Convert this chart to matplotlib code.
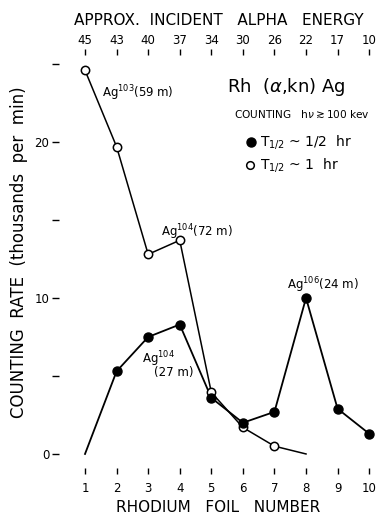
import numpy as np
import matplotlib
matplotlib.use('Agg')
import matplotlib.pyplot as plt

plt.rcParams['font.family'] = ['DejaVu Sans']
plt.rcParams['mathtext.fontset'] = 'dejavusans'

# foil numbers and the alpha energies on top
foil = [1, 2, 3, 4, 5, 6, 7, 8, 9, 10]
energy = [45, 43, 40, 37, 34, 30, 26, 22, 17, 10]

# T1/2 ~ 1/2 hr (filled), starts from zero at foil 1
half_hr_x = [1, 2, 3, 4, 5, 6, 7, 8, 9, 10]
half_hr_y = [0.0, 5.3, 7.5, 8.3, 3.6, 2.0, 2.7, 10.0, 2.9, 1.3]

# T1/2 ~ 1 hr (open), runs down to zero at foil 8
one_hr_x = [1, 2, 3, 4, 5, 6, 7, 8]
one_hr_y = [24.6, 19.7, 12.8, 13.7, 3.95, 1.7, 0.5, 0.0]

fig = plt.figure(figsize=(3.8, 5.15), dpi=100)
ax = fig.add_axes([59/380, 47/515, 319/380, 413/515])
ax.set_xlim(0.176, 10.28)
ax.set_ylim(-0.9, 25.58)
for s in ax.spines.values():
    s.set_visible(False)

ax.plot(one_hr_x, one_hr_y, '-', color='k', lw=1.1, zorder=2)
ax.plot(one_hr_x[:-1], one_hr_y[:-1], 'o', ms=6, mfc='white', mec='k', mew=1.1, zorder=3)
ax.plot(half_hr_x, half_hr_y, '-', color='k', lw=1.3, zorder=2)
ax.plot(half_hr_x[1:], half_hr_y[1:], 'o', ms=6.5, color='k', zorder=4)

ax.set_xticks(foil)
ax.set_xticklabels([str(f) for f in foil], fontsize=8.5)
ax.tick_params(axis='x', direction='out', length=4, width=1, pad=6)
ax.set_yticks([0, 5, 10, 15, 20, 25])
ax.set_yticklabels(['0', '', '10', '', '20', ''], fontsize=8.5)
ax.tick_params(axis='y', direction='out', length=5, width=1, pad=2)
ax.set_xlabel('RHODIUM   FOIL   NUMBER', fontsize=11, labelpad=4)

top = ax.twiny()
top.set_xlim(ax.get_xlim())
for s in top.spines.values():
    s.set_visible(False)
top.set_xticks(foil)
top.set_xticklabels([str(e) for e in energy], fontsize=8.5)
top.tick_params(axis='x', direction='out', length=4, width=1, pad=2)
top.set_xlabel('APPROX.  INCIDENT   ALPHA   ENERGY', fontsize=11, labelpad=6)

fig.text(0.05, 0.51, 'COUNTING  RATE  (thousands  per  min)', rotation=90,
         ha='center', va='center', fontsize=12)

# labels on the curves
ax.text(1.55, 23.1, r'Ag$^{\rm 103}$(59 m)', fontsize=8.5, va='center')
ax.text(3.4, 14.2, r'Ag$^{\rm 104}$(72 m)', fontsize=8.5, va='center')
ax.text(2.8, 6.1, r'Ag$^{\rm 104}$', fontsize=8.5, va='center')
ax.text(3.2, 5.2, '(27 m)', fontsize=8.5, va='center')
ax.text(7.4, 10.8, r'Ag$^{\rm 106}$(24 m)', fontsize=8.5, va='center')

# legend block
ax.text(5.5, 23.5, r'Rh  ($\alpha$,kn) Ag', fontsize=13, va='center')
ax.text(5.72, 21.8, r'COUNTING   h$\nu \gtrsim$100 kev', fontsize=7.6, va='center')
ax.plot([6.26], [20.0], 'o', ms=6.5, color='k', clip_on=False)
ax.text(6.55, 20.0, r'T$_{\rm 1/2}$ ~ 1/2  hr', fontsize=10, va='center')
ax.plot([6.22], [18.5], 'o', ms=5.5, mfc='white', mec='k', mew=1.1, clip_on=False)
ax.text(6.55, 18.5, r'T$_{\rm 1/2}$ ~ 1  hr', fontsize=10, va='center')

fig.savefig('out.png', dpi=100)
